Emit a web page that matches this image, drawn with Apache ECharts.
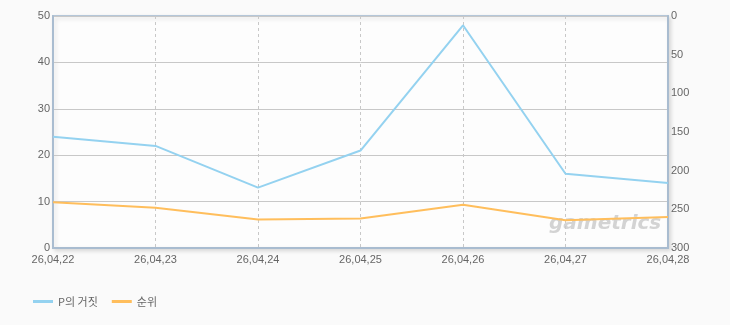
<!DOCTYPE html>
<html><head><meta charset="utf-8">
<script src="https://cdn.jsdelivr.net/npm/echarts@6/dist/echarts.min.js"></script>
<style>html,body{margin:0;padding:0;background:#fafafa;}#c{width:730px;height:325px;}</style>
</head><body><div id="c"></div>
<script>
const categories = ['26,04,22','26,04,23','26,04,24','26,04,25','26,04,26','26,04,27','26,04,28'];
const players = [24, 22, 13, 21, 48, 16, 14];
const ranks = [241, 248, 263, 262, 244, 264, 260];
const leftTicks = [0, 50, 10];
const rightTicks = [0, 300, 50];
const font = 'Liberation Sans, Arial, sans-serif';
const chart = echarts.init(document.getElementById('c'));
chart.setOption({
  backgroundColor: '#fafafa',
  animation: false,
  grid: { left: 53, right: 62, top: 16, bottom: 77, show: true, backgroundColor: '#fdfdfd', borderColor: '#b4c6d8', borderWidth: 2, shadowColor: 'rgba(0,0,0,0.12)', shadowBlur: 4, shadowOffsetX: 2, shadowOffsetY: 2 },
  legend: {
    left: 28, bottom: 13, itemWidth: 20, itemHeight: 3, itemGap: 14, icon: 'rect',
    textStyle: { color: '#666', fontSize: 11, fontFamily: 'Noto Sans CJK KR' },
    data: ['P의 거짓', '순위']
  },
  xAxis: {
    type: 'category', data: categories, boundaryGap: false,
    axisLine: { show: true, lineStyle: { color: '#a9bcd0', width: 2 } },
    axisTick: { show: false },
    axisLabel: { color: '#666', fontSize: 11, fontFamily: font, margin: 6, interval: 0 },
    splitLine: { show: true, lineStyle: { color: '#c8c8c8', type: [3, 3], width: 1 } }
  },
  yAxis: [
    { type: 'value', min: leftTicks[0], max: leftTicks[1], interval: leftTicks[2], position: 'left',
      axisLine: { show: true, lineStyle: { color: '#a9bcd0', width: 2 } }, axisTick: { show: false },
      axisLabel: { color: '#666', fontSize: 11, fontFamily: font, margin: 3 },
      splitLine: { show: true, lineStyle: { color: '#c8c8c8', width: 1 } } },
    { type: 'value', min: rightTicks[0], max: rightTicks[1], interval: rightTicks[2], inverse: true, position: 'right',
      axisLine: { show: true, lineStyle: { color: '#a9bcd0', width: 2 } }, axisTick: { show: false },
      axisLabel: { color: '#666', fontSize: 11, fontFamily: font, margin: 3 },
      splitLine: { show: false } }
  ],
  graphic: [{ type: 'text', left: 549, top: 214, silent: true,
    style: { text: 'gametrics', fill: 'rgba(160,160,160,0.45)', font: 'italic bold 20px DejaVu Sans' } }],
  series: [
    { name: 'P의 거짓', type: 'line', data: players, yAxisIndex: 0, symbol: 'none',
      lineStyle: { color: '#94d2f0', width: 2 }, itemStyle: { color: '#94d2f0' } },
    { name: '순위', type: 'line', data: ranks, yAxisIndex: 1, symbol: 'none',
      lineStyle: { color: '#ffbe5c', width: 2 }, itemStyle: { color: '#ffbe5c' } }
  ]
});
</script></body></html>
